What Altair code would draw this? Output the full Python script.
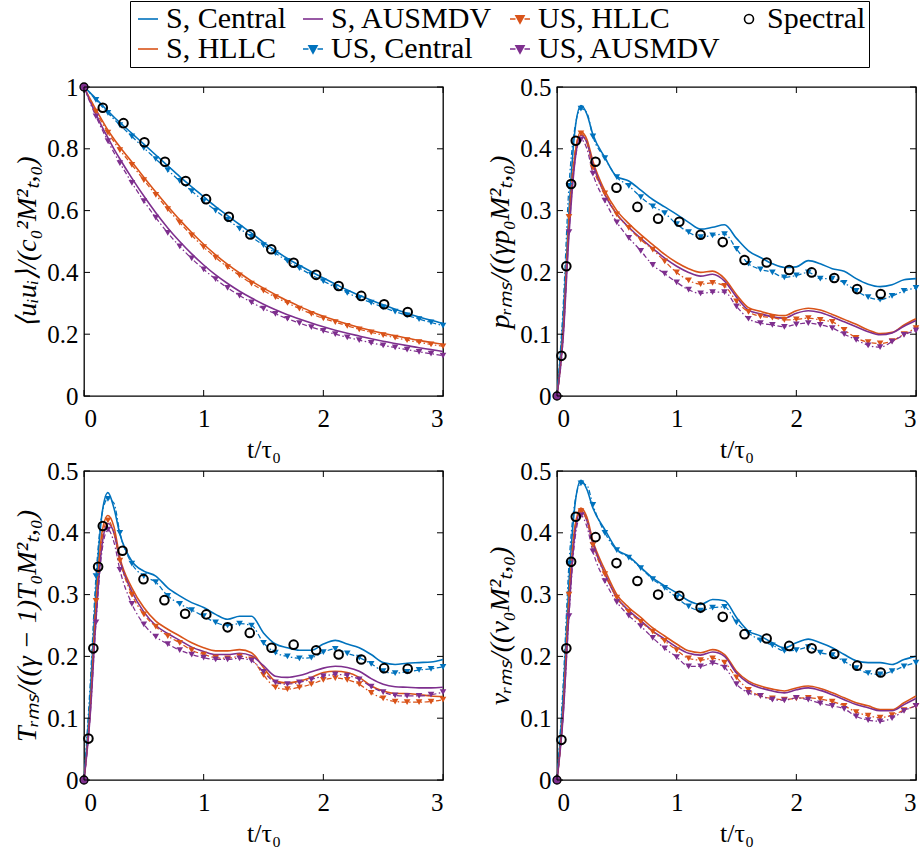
import altair as alt
import pandas as pd

# ---------------- data ----------------
T = [0, 0.05, 0.1, 0.15, 0.2, 0.25, 0.3, 0.4, 0.5, 0.6, 0.7, 0.8, 0.9, 1.0,
     1.1, 1.2, 1.3, 1.4, 1.5, 1.6, 1.7, 1.8, 1.9, 2.0, 2.1, 2.2, 2.3, 2.4,
     2.5, 2.6, 2.7, 2.8, 2.9, 3.0]
MARKER_T = [0.1, 0.2, 0.3, 0.4, 0.5, 0.6, 0.7, 0.8, 0.9, 1.0, 1.1, 1.2, 1.3,
            1.4, 1.5, 1.6, 1.7, 1.8, 1.9, 2.0, 2.1, 2.2, 2.3, 2.4, 2.5, 2.6,
            2.7, 2.8, 2.9, 3.0]

SERIES = ["S, Central", "S, HLLC", "S, AUSMDV", "US, Central", "US, HLLC", "US, AUSMDV"]

# kinetic energy
KE_S_CENTRAL = [1.0, 0.982, 0.962, 0.942, 0.922, 0.903, 0.885, 0.85, 0.815, 0.78, 0.745, 0.71, 0.677, 0.645,
                0.613, 0.584, 0.555, 0.527, 0.497, 0.47, 0.445, 0.423, 0.402, 0.382, 0.362, 0.343, 0.326, 0.31,
                0.295, 0.281, 0.268, 0.256, 0.245, 0.235]
KE_S_HLLC = [1.0, 0.962, 0.927, 0.893, 0.86, 0.832, 0.806, 0.757, 0.708, 0.66, 0.614, 0.57, 0.529, 0.491,
             0.457, 0.426, 0.398, 0.372, 0.349, 0.328, 0.308, 0.29, 0.273, 0.258, 0.245, 0.233, 0.222, 0.212,
             0.203, 0.195, 0.187, 0.18, 0.173, 0.167]
KE_S_AUSMDV = [1.0, 0.955, 0.912, 0.872, 0.835, 0.8, 0.767, 0.705, 0.647, 0.593, 0.544, 0.5, 0.46, 0.424,
               0.392, 0.364, 0.339, 0.317, 0.297, 0.279, 0.263, 0.249, 0.236, 0.224, 0.213, 0.203, 0.194, 0.185,
               0.177, 0.17, 0.163, 0.156, 0.15, 0.144]
KE_US_CENTRAL = [1.0, 0.98, 0.958, 0.937, 0.916, 0.896, 0.877, 0.84, 0.803, 0.767, 0.731, 0.696, 0.663, 0.631,
                 0.6, 0.571, 0.542, 0.515, 0.488, 0.462, 0.437, 0.414, 0.392, 0.372, 0.352, 0.334, 0.317, 0.302,
                 0.287, 0.273, 0.261, 0.249, 0.238, 0.228]
KE_US_HLLC = [1.0, 0.958, 0.92, 0.885, 0.852, 0.823, 0.796, 0.748, 0.699, 0.651, 0.605, 0.561, 0.52, 0.482,
              0.448, 0.417, 0.39, 0.364, 0.341, 0.32, 0.301, 0.283, 0.266, 0.251, 0.239, 0.227, 0.216, 0.206,
              0.197, 0.189, 0.181, 0.174, 0.167, 0.161]
KE_US_AUSMDV = [1.0, 0.95, 0.905, 0.863, 0.825, 0.788, 0.754, 0.69, 0.631, 0.577, 0.528, 0.484, 0.445, 0.41,
                0.378, 0.35, 0.325, 0.303, 0.283, 0.266, 0.25, 0.236, 0.223, 0.211, 0.2, 0.19, 0.181, 0.172,
                0.164, 0.157, 0.15, 0.143, 0.137, 0.131]
KE_SPEC_T = [0, 0.157, 0.33, 0.505, 0.677, 0.85, 1.02, 1.21, 1.39, 1.565, 1.752, 1.94, 2.128, 2.317, 2.508, 2.705]
KE_SPEC = [1.0, 0.933, 0.883, 0.821, 0.758, 0.696, 0.637, 0.58, 0.523, 0.475, 0.431, 0.392, 0.356, 0.324, 0.297, 0.272]

# pressure rms
P_S_CENTRAL = [0, 0.12, 0.30, 0.43, 0.47, 0.456, 0.423, 0.386, 0.355, 0.348, 0.333, 0.318, 0.306, 0.294,
               0.281, 0.27, 0.273, 0.277, 0.255, 0.235, 0.224, 0.214, 0.208, 0.209, 0.219, 0.214, 0.206, 0.202,
               0.19, 0.181, 0.177, 0.18, 0.188, 0.19]
P_S_HLLC = [0, 0.10, 0.28, 0.39, 0.428, 0.415, 0.38, 0.332, 0.3, 0.279, 0.261, 0.245, 0.229, 0.216,
            0.206, 0.2, 0.202, 0.19, 0.164, 0.143, 0.137, 0.132, 0.13, 0.138, 0.142, 0.139, 0.132, 0.124,
            0.116, 0.107, 0.101, 0.103, 0.115, 0.125]
P_S_AUSMDV = [0, 0.09, 0.26, 0.38, 0.422, 0.41, 0.375, 0.326, 0.294, 0.273, 0.255, 0.239, 0.223, 0.21,
              0.2, 0.194, 0.197, 0.186, 0.16, 0.139, 0.133, 0.128, 0.126, 0.134, 0.138, 0.135, 0.128, 0.12,
              0.112, 0.104, 0.099, 0.102, 0.113, 0.122]
P_US_CENTRAL = [0, 0.14, 0.34, 0.435, 0.465, 0.458, 0.42, 0.385, 0.354, 0.34, 0.322, 0.307, 0.296, 0.278,
                0.265, 0.257, 0.26, 0.262, 0.238, 0.214, 0.205, 0.2, 0.192, 0.195, 0.2, 0.19, 0.19, 0.183,
                0.17, 0.16, 0.156, 0.162, 0.17, 0.175]
P_US_HLLC = [0, 0.10, 0.29, 0.395, 0.425, 0.41, 0.37, 0.328, 0.294, 0.272, 0.253, 0.237, 0.218, 0.2,
             0.187, 0.181, 0.183, 0.178, 0.153, 0.136, 0.129, 0.127, 0.123, 0.124, 0.126, 0.123, 0.12, 0.107,
             0.094, 0.087, 0.085, 0.089, 0.1, 0.11]
P_US_AUSMDV = [0, 0.09, 0.265, 0.38, 0.415, 0.40, 0.36, 0.316, 0.281, 0.256, 0.235, 0.212, 0.198, 0.184,
               0.172, 0.166, 0.168, 0.168, 0.145, 0.125, 0.118, 0.115, 0.112, 0.116, 0.118, 0.115, 0.11, 0.1,
               0.091, 0.082, 0.079, 0.088, 0.099, 0.106]
SPEC_T = [0, 0.037, 0.078, 0.118, 0.157, 0.322, 0.497, 0.672, 0.845, 1.022, 1.2, 1.385, 1.567, 1.752,
          1.94, 2.128, 2.317, 2.508, 2.705]
P_SPEC = [0, 0.065, 0.21, 0.343, 0.413, 0.379, 0.337, 0.306, 0.287, 0.282, 0.261, 0.249, 0.22, 0.216,
          0.204, 0.2, 0.191, 0.173, 0.165]

# temperature rms
T_S_CENTRAL = [0, 0.13, 0.31, 0.43, 0.465, 0.44, 0.398, 0.354, 0.338, 0.33, 0.311, 0.298, 0.287, 0.279,
               0.268, 0.26, 0.265, 0.265, 0.238, 0.22, 0.214, 0.21, 0.21, 0.22, 0.226, 0.22, 0.214, 0.203,
               0.19, 0.187, 0.189, 0.19, 0.191, 0.195]
T_S_HLLC = [0, 0.11, 0.28, 0.40, 0.428, 0.41, 0.36, 0.311, 0.279, 0.257, 0.244, 0.233, 0.222, 0.214,
            0.209, 0.209, 0.211, 0.206, 0.182, 0.16, 0.157, 0.16, 0.166, 0.174, 0.176, 0.174, 0.166, 0.152,
            0.144, 0.14, 0.14, 0.138, 0.136, 0.135]
T_S_AUSMDV = [0, 0.10, 0.26, 0.38, 0.415, 0.40, 0.355, 0.305, 0.272, 0.25, 0.237, 0.226, 0.215, 0.208,
              0.203, 0.203, 0.205, 0.201, 0.185, 0.168, 0.166, 0.169, 0.175, 0.181, 0.184, 0.182, 0.176, 0.164,
              0.155, 0.151, 0.15, 0.149, 0.149, 0.15]
T_US_CENTRAL = [0, 0.15, 0.33, 0.43, 0.455, 0.448, 0.4, 0.35, 0.33, 0.32, 0.298, 0.285, 0.275, 0.265,
                0.255, 0.25, 0.253, 0.25, 0.222, 0.206, 0.2, 0.197, 0.198, 0.207, 0.212, 0.205, 0.198, 0.188,
                0.176, 0.173, 0.175, 0.178, 0.18, 0.183]
T_US_HLLC = [0, 0.11, 0.29, 0.39, 0.42, 0.40, 0.355, 0.3, 0.268, 0.248, 0.233, 0.222, 0.21, 0.203,
             0.198, 0.197, 0.2, 0.195, 0.17, 0.15, 0.147, 0.15, 0.155, 0.162, 0.165, 0.162, 0.155, 0.141,
             0.132, 0.127, 0.126, 0.126, 0.127, 0.13]
T_US_AUSMDV = [0, 0.10, 0.255, 0.37, 0.405, 0.385, 0.34, 0.285, 0.252, 0.232, 0.22, 0.21, 0.203, 0.198,
               0.195, 0.195, 0.197, 0.193, 0.175, 0.158, 0.155, 0.158, 0.163, 0.168, 0.171, 0.169, 0.163, 0.151,
               0.142, 0.137, 0.136, 0.136, 0.138, 0.142]
T_SPEC = [0, 0.067, 0.213, 0.345, 0.411, 0.371, 0.325, 0.291, 0.269, 0.268, 0.247, 0.238, 0.214, 0.219,
          0.21, 0.203, 0.195, 0.181, 0.18]

# velocity rms
V_S_CENTRAL = [0, 0.13, 0.32, 0.445, 0.485, 0.47, 0.44, 0.405, 0.373, 0.362, 0.344, 0.327, 0.314, 0.303,
               0.29, 0.284, 0.292, 0.29, 0.263, 0.241, 0.233, 0.222, 0.214, 0.222, 0.228, 0.222, 0.214, 0.203,
               0.193, 0.19, 0.19, 0.187, 0.195, 0.2]
V_S_HLLC = [0, 0.11, 0.29, 0.41, 0.44, 0.425, 0.387, 0.34, 0.3, 0.279, 0.263, 0.246, 0.233, 0.22,
            0.209, 0.206, 0.211, 0.203, 0.176, 0.16, 0.152, 0.147, 0.144, 0.149, 0.152, 0.148, 0.141, 0.133,
            0.125, 0.12, 0.114, 0.114, 0.125, 0.136]
V_S_AUSMDV = [0, 0.10, 0.27, 0.40, 0.435, 0.42, 0.383, 0.334, 0.295, 0.274, 0.258, 0.241, 0.228, 0.215,
              0.205, 0.202, 0.207, 0.2, 0.173, 0.157, 0.149, 0.144, 0.141, 0.146, 0.149, 0.145, 0.138, 0.13,
              0.122, 0.117, 0.112, 0.112, 0.122, 0.132]
V_US_CENTRAL = [0, 0.15, 0.35, 0.45, 0.48, 0.477, 0.445, 0.4, 0.372, 0.36, 0.343, 0.325, 0.311, 0.295,
                0.281, 0.274, 0.279, 0.28, 0.255, 0.238, 0.226, 0.218, 0.209, 0.21, 0.215, 0.206, 0.202, 0.192,
                0.181, 0.173, 0.171, 0.176, 0.184, 0.19]
V_US_HLLC = [0, 0.11, 0.3, 0.41, 0.435, 0.42, 0.38, 0.333, 0.295, 0.272, 0.256, 0.24, 0.225, 0.21,
             0.197, 0.194, 0.197, 0.19, 0.166, 0.146, 0.136, 0.132, 0.13, 0.132, 0.133, 0.131, 0.127, 0.12,
             0.11, 0.104, 0.101, 0.105, 0.113, 0.12]
V_US_AUSMDV = [0, 0.10, 0.265, 0.39, 0.428, 0.41, 0.37, 0.322, 0.288, 0.266, 0.249, 0.23, 0.213, 0.199,
               0.184, 0.184, 0.189, 0.182, 0.155, 0.141, 0.136, 0.13, 0.129, 0.133, 0.13, 0.124, 0.12, 0.115,
               0.103, 0.097, 0.095, 0.1, 0.112, 0.12]
V_SPEC = [0, 0.065, 0.213, 0.353, 0.426, 0.393, 0.351, 0.322, 0.3, 0.298, 0.279, 0.264, 0.236, 0.229,
          0.217, 0.213, 0.204, 0.185, 0.174]

X_TICKS = [0, 1, 2, 3]
KE_TICKS = [0, 0.2, 0.4, 0.6, 0.8, 1.0]
RMS_TICKS = [0, 0.1, 0.2, 0.3, 0.4, 0.5]

# legend entries, column by column (2 rows)
LEG_ORDER = ["S, Central", "S, HLLC", "S, AUSMDV", "US, Central", "US, HLLC", "US, AUSMDV", "Spectral"]

# ---------------- styles ----------------
BLUE, ORANGE, PURPLE = "#0072BD", "#D95319", "#7E2F8E"
COLORS = [BLUE, ORANGE, PURPLE, BLUE, ORANGE, PURPLE]
FONT = "Liberation Serif"
W, H = 359, 309

S_PATH = "M-1,0L1,0"
US_PATH = "M-1,0L-0.45,0M0.45,0L1,0M-0.4,-0.32L0.4,-0.32L0,0.4Z"
SPEC_PATH = "M-0.45,0A0.45,0.45,0,1,1,0.45,0A0.45,0.45,0,1,1,-0.45,0Z"
LEG_SHAPES = [S_PATH, S_PATH, S_PATH, US_PATH, US_PATH, US_PATH, SPEC_PATH]
LEG_STROKE = [BLUE, ORANGE, PURPLE, BLUE, ORANGE, PURPLE, "black"]
LEG_FILL = ["transparent", "transparent", "transparent", BLUE, ORANGE, PURPLE, "transparent"]
# widen the third legend column a little (the reference leaves a gap before "Spectral")
LEG_LABEL_EXPR = "datum.label == 'US, AUSMDV' ? datum.label + '\u2002' : datum.label"

panel_series = {
    "ke": [KE_S_CENTRAL, KE_S_HLLC, KE_S_AUSMDV, KE_US_CENTRAL, KE_US_HLLC, KE_US_AUSMDV],
    "p": [P_S_CENTRAL, P_S_HLLC, P_S_AUSMDV, P_US_CENTRAL, P_US_HLLC, P_US_AUSMDV],
    "T": [T_S_CENTRAL, T_S_HLLC, T_S_AUSMDV, T_US_CENTRAL, T_US_HLLC, T_US_AUSMDV],
    "v": [V_S_CENTRAL, V_S_HLLC, V_S_AUSMDV, V_US_CENTRAL, V_US_HLLC, V_US_AUSMDV],
}
panel_spec = {
    "ke": (KE_SPEC_T, KE_SPEC),
    "p": (SPEC_T, P_SPEC),
    "T": (SPEC_T, T_SPEC),
    "v": (SPEC_T, V_SPEC),
}

rows = []
for key, lists in panel_series.items():
    for name, vals in zip(SERIES, lists):
        for t, v in zip(T, vals):
            rows.append({"panel": key, "series": name, "kind": name.split(",")[0], "t": t, "v": v})
df = pd.DataFrame(rows)

srows = []
for key, (ts, vs) in panel_spec.items():
    for t, v in zip(ts, vs):
        srows.append({"panel": key, "t": t, "v": v})
sdf = pd.DataFrame(srows)


def panel(key, ymax, yticks, ytitle, with_legend=False):
    d = df[df.panel == key]
    sp = sdf[sdf.panel == key]
    xs = alt.Scale(domain=[0, 3], nice=False, zero=False)
    ys = alt.Scale(domain=[0, ymax], nice=False, zero=False)
    xax = alt.Axis(values=X_TICKS, format="d", title="t/τ₀")
    yax = alt.Axis(values=yticks, format="~g", title=ytitle, titleFontStyle="italic")
    X = alt.X("t:Q", scale=xs, axis=xax)
    Y = alt.Y("v:Q", scale=ys, axis=yax)
    col = alt.Color("series:N", scale=alt.Scale(domain=SERIES, range=COLORS), legend=None)

    base = alt.Chart(d)
    s_lines = base.transform_filter(alt.datum.kind == "S").mark_line(
        strokeWidth=1.6, interpolate="monotone").encode(X, Y, col)
    us_lines = base.transform_filter(alt.datum.kind == "US").mark_line(
        strokeWidth=1.25, strokeDash=[5, 2.5, 1.5, 2.5], interpolate="monotone").encode(X, Y, col)
    us_marks = base.transform_filter(alt.datum.kind == "US").transform_filter(
        alt.FieldOneOfPredicate(field="t", oneOf=MARKER_T)).mark_point(
        shape="triangle-down", filled=True, size=44, opacity=1).encode(X, Y, col)
    origin = base.transform_filter(
        (alt.datum.series == "S, AUSMDV") & (alt.datum.t == 0)).mark_point(
        shape="circle", filled=True, fill=PURPLE, stroke="black", strokeWidth=1.3,
        size=64, opacity=1).encode(X, Y)
    spec = alt.Chart(sp).transform_filter(alt.datum.t > 0).mark_point(
        shape="circle", filled=False, stroke="black", strokeWidth=2, size=74, opacity=1).encode(X, Y)

    xt = pd.DataFrame({"t": X_TICKS})
    yt = pd.DataFrame({"v": yticks})
    tb = alt.Chart(xt).mark_rule(color="black", strokeWidth=1).encode(
        x=X, y=alt.value(H), y2=alt.value(H - 6))
    tt = alt.Chart(xt).mark_rule(color="black", strokeWidth=1).encode(
        x=X, y=alt.value(0), y2=alt.value(6))
    tl = alt.Chart(yt).mark_rule(color="black", strokeWidth=1).encode(
        y=Y, x=alt.value(0), x2=alt.value(6))
    tr = alt.Chart(yt).mark_rule(color="black", strokeWidth=1).encode(
        y=Y, x=alt.value(W), x2=alt.value(W - 6))

    layers = [s_lines, us_lines, us_marks, spec, origin, tb, tt, tl, tr]

    if with_legend:
        ldf = pd.DataFrame({"series": LEG_ORDER, "t": [-1.0] * 7, "v": [-1.0] * 7})
        leg = dict(title=None, orient="none", legendX=46, legendY=-86, columns=4,
                   columnPadding=12, rowPadding=0, labelFont=FONT, labelFontSize=30,
                   labelColor="black", symbolSize=400, symbolStrokeWidth=1.6,
                   strokeColor="black", fillColor="white", padding=3,
                   labelOffset=3, labelLimit=0, cornerRadius=0, labelExpr=LEG_LABEL_EXPR)
        dummy = alt.Chart(ldf).mark_point(clip=True, opacity=1, filled=True).encode(
            x=X, y=Y,
            shape=alt.Shape("series:N", scale=alt.Scale(domain=LEG_ORDER, range=LEG_SHAPES),
                            legend=alt.Legend(**leg)),
            fill=alt.Fill("series:N", scale=alt.Scale(domain=LEG_ORDER, range=LEG_FILL),
                          legend=alt.Legend(**leg)),
            stroke=alt.Stroke("series:N", scale=alt.Scale(domain=LEG_ORDER, range=LEG_STROKE),
                              legend=alt.Legend(**leg)),
        )
        layers.append(dummy)

    return alt.layer(*layers).properties(width=W, height=H)


p1 = panel("ke", 1.0, KE_TICKS, "⟨uᵢuᵢ⟩/(c₀²M²ₜ,₀)", with_legend=True)
p2 = panel("p", 0.5, RMS_TICKS, "pᵣₘₛ/((γp₀M²ₜ,₀)")
p3 = panel("T", 0.5, RMS_TICKS, "Tᵣₘₛ/((γ − 1)T₀M²ₜ,₀)")
p4 = panel("v", 0.5, RMS_TICKS, "vᵣₘₛ/((v₀M²ₜ,₀)")

chart = alt.concat(p1, p2, p3, p4, columns=2, spacing={"row": 75, "column": 114},
                   bounds="flush").properties(
    padding={"left": 13, "top": 0, "right": 4, "bottom": 2}
).configure_view(
    stroke="black", strokeWidth=1.3
).configure_axis(
    labelFont=FONT, labelFontSize=25, labelColor="black",
    titleFont=FONT, titleColor="black", titleFontWeight="normal",
    domain=False, ticks=False, grid=False
).configure_axisX(labelPadding=10, titlePadding=5, titleFontSize=26
).configure_axisY(labelPadding=6, titlePadding=5, titleFontSize=28)

chart.save("out.html", embed_options={"renderer": "svg", "actions": False})
